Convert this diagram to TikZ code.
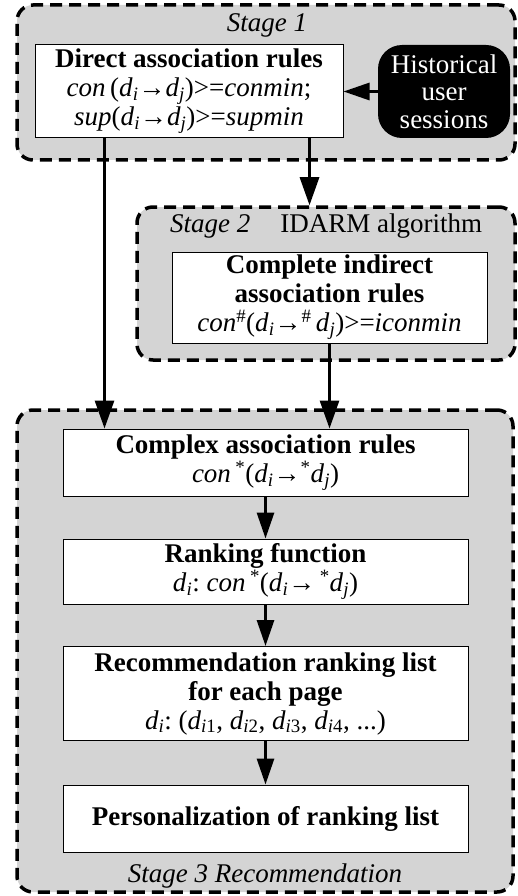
\documentclass[tikz,border=0pt]{standalone}
\usepackage{fontspec}
\setmainfont{Liberation Serif}
\usetikzlibrary{arrows.meta}
\definecolor{panelgray}{RGB}{212,212,212}
% page reference d with an italic subscript, and the rule arrow
\newcommand\dv[1]{\textit{d}\textsubscript{\textit{#1}}}
\newcommand\rarr{→}
\tikzset{
  panel/.style={draw, line width=3.5pt, dash pattern=on 12pt off 7pt,
    fill=panelgray, rounded corners=16pt, inner sep=0pt},
  rulebox/.style={draw, line width=1pt, fill=white, align=center,
    inner sep=0pt, font=\fontsize{27}{29}\selectfont},
  sourcebox/.style={fill=black, text=white, rounded corners=24pt, align=center,
    inner sep=0pt, font=\fontsize{27}{27.5}\selectfont},
  stagelabel/.style={inner sep=0pt, font=\fontsize{27}{29}\selectfont},
  flow/.style={line width=3pt, -{Triangle[length=28pt,width=19pt]}},
  flowsmall/.style={line width=3pt, -{Triangle[length=26pt,width=17pt]}},
}
\begin{document}
\begin{tikzpicture}[x=1pt,y=-1pt]
\useasboundingbox (0,0) rectangle (518,896);

% stage panels
\node[panel, minimum width=498pt, minimum height=155pt] (s1) at (266,82.5) {};
\node[panel, minimum width=378pt, minimum height=153pt] (s2) at (326,283.5) {};
\node[panel, minimum width=496pt, minimum height=482pt] (s3) at (265,651) {};

\node[stagelabel] (l1) at (267,25) {\textit{Stage 1}};
\node[stagelabel, anchor=west] (l2) at (170,226) {\textit{Stage 2}\hspace{30pt}IDARM algorithm};
\node[stagelabel] (l3) at (265,876) {\textit{Stage 3 Recommendation}};

% stage 1
\node[rulebox, minimum width=308pt, minimum height=93pt] (direct) at (189,91.5)
  {\textbf{Direct association rules}\\
   \textit{con}\,(\dv{i}\rarr\dv{j})>=\textit{conmin};\\
   \textit{sup}(\dv{i}\rarr\dv{j})>=\textit{supmin}};
\node[sourcebox, minimum width=132pt, minimum height=93pt] (hist) at (444,91.5)
  {Historical\\user\\sessions};

% stage 2
\node[rulebox, minimum width=315pt, minimum height=91pt] (complete) at (329.5,297.5)
  {\textbf{Complete indirect}\\
   \textbf{association rules}\\
   \textit{con}\textsuperscript{\#}(\dv{i}\rarr\textsuperscript{\#}\,\dv{j})>=\textit{iconmin}};

% stage 3
\node[rulebox, minimum width=405pt, minimum height=67pt] (complex) at (265.5,462.5)
  {\textbf{Complex association rules}\\
   \textit{con}\,\textsuperscript{*}(\dv{i}\rarr\textsuperscript{*}\dv{j})};
\node[rulebox, minimum width=405pt, minimum height=65pt] (ranking) at (265.5,571.5)
  {\textbf{Ranking function}\\
   \dv{i}:\ \textit{con}\,\textsuperscript{*}(\dv{i}\rarr\,\textsuperscript{*}\dv{j})};
\node[rulebox, minimum width=405pt, minimum height=94pt] (reclist) at (265.5,693.5)
  {\textbf{Recommendation ranking list}\\
   \textbf{for each page}\\
   \dv{i}:\ (\textit{d}\textsubscript{\textit{i}1}, \textit{d}\textsubscript{\textit{i}2},
   \textit{d}\textsubscript{\textit{i}3}, \textit{d}\textsubscript{\textit{i}4}, ...)};
\node[rulebox, minimum width=405pt, minimum height=67pt] (personal) at (265.5,818.5)
  {\textbf{Personalization of ranking list}};

% connectors
\draw[flowsmall] (hist.west) -- (direct.east);
\draw[flow] ([xshift=70pt]direct.south west) -- ([xshift=42pt]complex.north west);
\draw[flow] ([xshift=275pt]direct.south west) -- ([xshift=275pt]direct.south west |- s2.north);
\draw[flow] (complete.south) -- (complete.south |- complex.north);
\draw[flowsmall] (complex.south) -- (ranking.north);
\draw[flowsmall] (ranking.south) -- (reclist.north);
\draw[flowsmall] (reclist.south) -- (personal.north);
\end{tikzpicture}
\end{document}
